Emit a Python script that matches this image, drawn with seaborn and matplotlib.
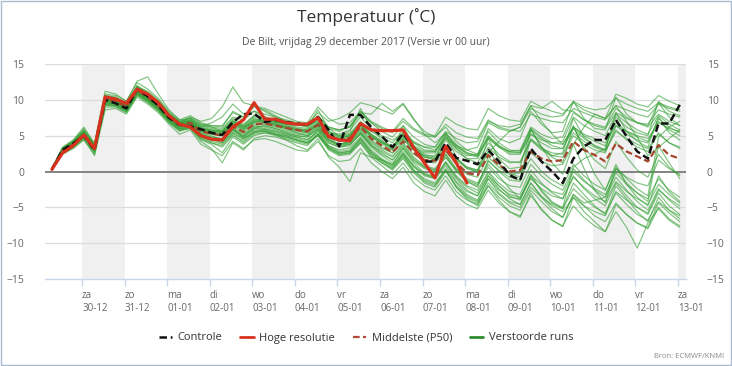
import numpy as np
import pandas as pd
import matplotlib
matplotlib.use("Agg")
import matplotlib.pyplot as plt
from matplotlib.lines import Line2D
from matplotlib.patches import Rectangle
import seaborn as sns

# tijdas: 6-uurlijkse stappen
start = "2017-12-29 07:00"
n_steps = 60

day_names = ["za", "zo", "ma", "di", "wo", "do", "vr", "za", "zo", "ma", "di", "wo", "do", "vr", "za"]
day_dates = ["30-12", "31-12", "01-01", "02-01", "03-01", "04-01", "05-01", "06-01",
             "07-01", "08-01", "09-01", "10-01", "11-01", "12-01", "13-01"]

# Controle run
controle = [0.3, 3.0, 3.9, 5.0, 3.0, 10.0, 9.5, 8.8, 11.5, 10.5, 9.2, 7.5, 6.5,
            6.3, 5.9, 5.4, 5.1, 6.9, 8.0, 8.1, 6.9, 7.2, 6.9, 6.7, 6.5,
            7.6, 5.8, 3.5, 7.9, 7.9, 6.2, 4.9, 3.4, 5.3, 3.3, 1.4, 1.4, 4.0, 1.9, 1.5, 1.0,
            3.0, 1.4, -0.5, -1.2, 3.2, 1.4, 0.0, -1.6, 1.8, 3.5, 4.4, 4.4, 7.2, 4.9, 2.8, 1.8, 6.7, 6.7, 9.3]

# Hoge resolutie (stopt eerder)
hoge_res = [0.3, 2.6, 3.6, 5.1, 3.2, 10.4, 10.1, 9.5, 11.5, 10.8, 9.6, 7.8, 6.6,
            6.2, 5.0, 4.5, 4.4, 6.2, 7.2, 9.6, 7.3, 7.3, 6.8, 6.6, 6.6,
            7.5, 4.9, 4.4, 4.3, 6.7, 5.8, 5.7, 5.7, 5.8, 3.3, 1.2, -0.9, 3.5, 1.2, -1.6]

# Middelste (P50)
middelste = [0.3, 2.9, 3.8, 5.2, 3.3, 10.0, 9.8, 9.0, 11.3, 10.4, 9.2, 7.6, 6.5,
             6.8, 5.6, 5.3, 5.0, 6.3, 5.5, 6.6, 6.7, 6.4, 6.1, 5.8, 5.6,
             6.5, 4.8, 4.3, 4.7, 6.2, 4.6, 3.6, 2.7, 4.2, 2.6, 1.6, 1.5, 3.0, 1.2, -0.2, -0.5,
             2.3, 0.9, 0.0, 0.2, 2.8, 1.8, 1.4, 1.6, 4.2, 3.0, 2.3, 1.4, 3.9, 2.8, 2.1, 1.4, 3.7, 2.3, 1.8]

# Verstoorde runs
run01 = [0.4, 3.1, 4.0, 5.5, 3.5, 10.3, 10.1, 9.2, 11.6, 10.6, 9.4, 7.8, 6.7,
         7.0, 6.0, 5.6, 5.2, 6.8, 6.0, 7.2, 7.1, 6.9, 6.6, 6.2, 6.0,
         7.4, 5.6, 5.0, 5.3, 7.0, 5.6, 4.8, 4.0, 5.6, 4.2, 3.4, 3.0, 4.8, 3.4, 2.6, 2.2,
         4.8, 3.6, 2.8, 2.6, 5.2, 4.4, 4.0, 3.8, 6.2, 5.2, 4.6, 4.0, 6.4, 5.6, 5.0, 4.6, 6.8, 6.0, 5.6]
run02 = [0.2, 2.6, 3.5, 4.8, 3.0, 9.6, 9.5, 8.6, 11.0, 10.1, 8.8, 7.2, 6.1,
         6.4, 5.0, 4.6, 4.2, 5.6, 4.8, 5.8, 5.9, 5.6, 5.2, 4.8, 4.5,
         5.4, 3.6, 3.0, 3.3, 4.8, 3.0, 1.8, 0.9, 2.4, 0.6, -0.6, -1.0, 0.8, -1.4, -2.8, -3.4,
         -0.6, -2.0, -3.2, -3.6, -1.0, -2.4, -3.4, -3.8, -0.8, -2.2, -3.4, -4.2, -1.4, -2.8, -3.8, -4.6, -1.8, -3.2, -4.4]
run03 = [0.3, 3.3, 4.2, 5.8, 3.8, 10.6, 10.4, 9.5, 11.9, 10.9, 9.7, 8.0, 7.0,
         7.2, 6.3, 6.0, 5.8, 7.4, 6.6, 7.8, 7.6, 7.2, 6.9, 6.6, 6.4,
         7.8, 6.2, 5.8, 6.2, 8.0, 6.8, 6.0, 5.4, 7.0, 5.8, 5.0, 4.8, 6.6, 5.4, 4.8, 4.6,
         7.2, 6.2, 5.8, 5.6, 8.0, 7.4, 7.0, 6.8, 8.8, 8.2, 7.6, 7.2, 9.2, 8.6, 8.0, 7.6, 9.4, 8.8, 8.4]
run04 = [0.3, 2.8, 3.6, 5.0, 2.8, 9.4, 9.2, 8.4, 10.8, 9.8, 8.6, 7.0, 5.8,
         6.0, 4.6, 4.0, 3.6, 5.2, 4.0, 5.2, 5.4, 5.0, 4.6, 4.2, 3.8,
         5.0, 3.2, 2.4, 2.6, 4.0, 2.0, 0.8, -0.4, 1.2, -0.8, -2.0, -2.6, -0.6, -2.8, -4.0, -4.6,
         -2.0, -3.6, -4.8, -5.4, -2.6, -4.2, -5.6, -6.4, -3.2, -4.8, -6.2, -7.0, -4.4, -6.0, -7.2, -8.0, -5.0, -6.6, -7.6]
run05 = [0.5, 3.4, 4.4, 6.2, 3.9, 11.2, 10.8, 9.8, 12.4, 11.5, 10.2, 8.4, 7.2,
         7.8, 6.8, 6.4, 6.2, 8.4, 7.6, 9.0, 8.6, 7.8, 7.0, 6.6, 6.2,
         8.6, 6.0, 5.0, 5.6, 8.8, 6.0, 4.4, 3.0, 6.4, 3.6, 2.0, 1.6, 5.2, 2.0, 0.4, 0.0,
         4.6, 1.8, 0.4, 0.6, 6.0, 3.4, 2.2, 2.6, 7.4, 4.8, 3.6, 3.0, 8.2, 5.6, 4.2, 3.4, 7.6, 5.4, 4.4]
run06 = [0.2, 2.4, 3.2, 4.4, 2.4, 9.0, 9.0, 8.2, 10.6, 9.6, 8.4, 6.8, 5.6,
         6.2, 4.4, 3.8, 2.6, 4.8, 3.8, 5.0, 5.4, 5.2, 5.0, 4.6, 4.2,
         5.8, 4.0, 3.4, 3.8, 5.2, 3.6, 2.8, 2.0, 3.6, 1.8, 0.6, 0.2, 2.0, 0.2, -1.2, -1.8,
         1.4, 0.2, -0.8, -1.2, 4.6, 3.4, 2.0, 1.2, 6.4, 3.0, -0.4, -2.6, 1.0, -1.8, -3.6, -4.8, -0.6, -2.8, -4.2]
run07 = [0.4, 3.0, 3.9, 5.4, 3.4, 10.2, 10.0, 9.2, 11.8, 11.2, 10.0, 8.2, 7.0,
         7.4, 6.4, 6.2, 6.0, 7.6, 7.2, 8.4, 8.0, 7.6, 7.2, 6.8, 6.6,
         8.2, 7.0, 7.4, 8.2, 9.6, 9.2, 8.6, 8.0, 9.4, 7.2, 5.6, 4.8, 6.2, 4.2, 3.0, 2.4,
         5.6, 4.0, 3.0, 2.8, 5.8, 4.6, 3.6, 3.2, 6.0, 4.6, 3.6, 3.0, 5.8, 4.4, 3.4, 2.8, 5.4, 4.0, 3.2]
run08 = [0.3, 2.7, 3.4, 4.6, 2.2, 8.6, 8.8, 8.0, 10.4, 9.4, 8.2, 6.6, 5.2,
         5.8, 3.8, 3.0, 2.2, 4.2, 3.2, 4.4, 4.6, 4.2, 3.6, 3.0, 2.8,
         4.2, 2.2, 1.4, 1.6, 3.2, 1.2, 0.0, -1.0, 0.6, -1.6, -2.8, -3.4, -1.2, -3.4, -4.6, -5.2,
         -2.6, -4.4, -5.6, -6.2, -3.4, -5.2, -6.8, -7.6, -4.8, -6.4, -7.6, -8.4, -5.6, -7.8, -10.7, -7.2, -5.2, -6.8, -7.8]
run09 = [0.4, 3.2, 4.1, 5.6, 3.6, 10.4, 10.2, 9.4, 12.0, 11.0, 9.8, 8.1, 6.9,
         7.5, 6.6, 6.4, 6.4, 8.2, 7.6, 9.2, 8.8, 8.2, 7.6, 7.0, 6.8,
         9.0, 7.4, 6.6, 6.8, 8.4, 7.0, 6.2, 5.6, 7.4, 6.0, 5.2, 5.0, 7.6, 6.6, 6.0, 5.8,
         8.8, 7.8, 7.2, 7.0, 9.8, 9.0, 8.4, 8.0, 9.6, 8.6, 8.0, 7.4, 10.8, 10.2, 9.4, 9.0, 10.6, 9.8, 9.2]
run10 = [0.3, 2.9, 3.7, 5.0, 3.1, 9.8, 9.6, 8.8, 11.2, 10.2, 9.0, 7.4, 6.4,
         6.6, 5.4, 5.0, 4.4, 6.0, 5.0, 6.0, 6.4, 6.0, 5.4, 5.0, 4.8,
         6.0, 4.4, 3.8, 4.0, 5.4, 4.0, 3.0, 2.2, 3.8, 2.0, 0.8, 0.4, 2.4, 0.4, -1.0, -1.6,
         1.0, -0.6, -2.4, -3.8, -0.4, -2.8, -4.4, -5.0, 0.6, 1.8, 2.4, 3.2, 7.6, 6.2, 5.4, 5.0, 9.8, 8.4, 7.8]
run11 = [0.3, 3.0, 3.9, 5.3, 3.2, 10.1, 9.9, 9.1, 11.4, 10.5, 9.3, 7.7, 6.6,
         7.2, 6.2, 6.8, 7.6, 9.4, 8.0, 8.4, 7.6, 7.0, 6.6, 6.4, 6.4,
         7.0, 5.4, 5.2, 5.8, 7.6, 6.0, 5.0, 4.4, 5.2, 3.4, 2.4, 2.0, 3.6, 1.8, 0.6, 0.2,
         3.4, 2.0, 1.2, 1.4, 4.4, 3.2, 2.6, 2.4, 5.4, 4.2, 3.4, 2.8, 5.6, 4.6, 3.8, 3.2, 5.2, 4.0, 3.4]
run12 = [0.2, 2.8, 3.6, 4.9, 3.0, 9.6, 9.4, 8.6, 10.9, 10.0, 8.8, 7.2, 6.0,
         6.2, 4.8, 4.4, 4.0, 5.4, 4.4, 5.6, 5.8, 5.4, 5.0, 4.4, 4.0,
         5.0, 3.0, 2.2, 2.4, 4.0, 2.2, 1.2, 0.4, 2.0, 0.0, -1.4, -2.0, 0.2, -2.2, -3.6, -4.4,
         -1.6, -3.2, -4.4, -5.0, -2.2, -3.6, -4.6, -5.2, -2.4, -3.8, -5.0, -5.8, -3.0, -4.6, -6.0, -6.8, -4.2, -5.4, -6.2]
run13 = [0.3, 2.9, 3.8, 5.1, 3.3, 10.0, 9.7, 8.9, 11.2, 10.3, 9.1, 7.5, 6.3,
         6.6, 5.2, 4.6, 4.0, 6.0, 4.6, 5.4, 5.8, 5.2, 4.4, 3.6, 3.0,
         4.6, 2.0, 0.6, -1.4, 2.6, 2.0, 1.6, 1.0, 3.2, 1.4, 0.4, 0.0, 2.4, 0.2, -1.4, -2.2,
         1.6, 0.0, -1.2, -1.4, 5.8, 3.4, 1.2, -0.4, 3.8, 0.4, -2.6, -4.4, 0.4, -1.6, -3.0, -4.2, 3.6, 1.2, -1.0]
run14 = [0.4, 3.0, 4.0, 5.4, 3.6, 10.4, 10.0, 9.0, 11.4, 10.6, 9.4, 7.8, 6.8,
         7.0, 5.8, 5.4, 5.0, 6.6, 5.8, 7.0, 7.0, 6.6, 6.2, 5.8, 5.6,
         6.8, 5.0, 4.6, 5.0, 6.6, 5.0, 4.0, 3.2, 4.8, 3.4, 2.6, 2.6, 4.6, 3.2, 2.2, 2.4,
         6.0, 4.6, 4.0, 4.6, 8.4, 6.6, 5.4, 5.6, 9.8, 7.4, 6.0, 5.8, 10.4, 8.0, 6.8, 6.4, 9.6, 7.6, 6.4]
run15 = [0.3, 2.7, 3.6, 5.0, 3.1, 9.7, 9.5, 8.7, 11.0, 10.1, 8.9, 7.3, 6.2,
         6.5, 5.2, 4.8, 4.6, 5.8, 5.0, 6.2, 6.2, 5.8, 5.4, 5.0, 4.8,
         5.8, 4.0, 3.4, 3.6, 5.4, 3.6, 2.4, 1.6, 3.4, 1.6, 0.6, 0.2, 2.0, 0.0, -1.4, -2.0,
         0.6, -1.0, -2.0, -2.2, 1.0, -0.6, -1.8, -2.6, 0.4, -1.2, -2.6, -3.6, -0.8, -2.6, -4.2, -5.4, -2.4, -4.0, -5.2]
run16 = [0.3, 3.1, 4.0, 5.3, 3.4, 10.2, 9.9, 9.1, 11.5, 10.7, 9.5, 7.9, 6.8,
         7.0, 6.0, 5.8, 5.4, 6.6, 6.2, 6.8, 7.4, 7.0, 6.4, 6.0, 5.8,
         6.8, 5.6, 4.8, 5.0, 6.4, 5.2, 4.2, 3.6, 4.6, 3.2, 2.2, 1.8, 3.2, 1.6, 0.4, 0.0,
         2.6, 4.2, 5.6, 6.2, 9.2, 7.0, 5.2, 3.8, 6.2, 3.4, 1.6, 0.4, 4.2, 2.0, 0.2, -0.8, 2.4, 0.6, -0.6]
run17 = [0.4, 3.2, 4.2, 5.7, 3.7, 10.6, 10.3, 9.4, 11.8, 10.8, 9.6, 8.0, 6.8,
         7.2, 6.2, 5.8, 5.6, 7.2, 6.4, 7.6, 7.4, 7.0, 6.8, 6.6, 6.2,
         7.4, 6.0, 5.6, 6.4, 8.2, 8.0, 9.5, 8.4, 9.5, 7.4, 5.2, 4.0, 5.4, 3.2, 1.8, 1.2,
         4.0, 2.4, 1.4, 1.2, 4.4, 3.0, 2.2, 2.0, 5.0, 3.8, 3.0, 2.6, 6.4, 5.2, 4.4, 4.0, 7.4, 6.2, 5.4]
run18 = [0.2, 2.5, 3.3, 4.5, 2.6, 9.2, 9.1, 8.3, 10.7, 9.7, 8.5, 6.9, 5.7,
         6.0, 4.2, 3.2, 1.2, 4.0, 3.0, 4.6, 5.0, 4.8, 4.4, 4.0, 3.6,
         5.2, 3.4, 2.6, 2.8, 4.4, 2.6, 1.6, 0.8, 2.6, 0.8, -0.4, -0.8, 1.4, -0.6, -2.0, -2.6,
         0.0, -1.6, -2.8, -3.2, 0.2, -1.6, -3.0, -3.8, -0.6, -2.4, -3.8, -4.8, -1.6, -3.4, -5.0, -6.0, -3.0, -4.8, -6.0]
run19 = [0.3, 3.0, 3.8, 5.2, 3.2, 10.0, 9.8, 9.0, 11.2, 10.4, 9.2, 7.6, 6.6,
         6.8, 5.8, 5.6, 5.6, 7.0, 6.4, 7.8, 7.6, 6.8, 6.0, 5.4, 5.0,
         6.4, 4.4, 3.6, 4.0, 6.2, 4.8, 4.0, 3.4, 5.4, 4.0, 3.0, 2.8, 5.2, 3.6, 2.4, 2.0,
         5.0, 3.6, 2.6, 2.6, 6.0, 4.8, 4.0, 4.2, 7.6, 6.4, 5.6, 5.0, 8.0, 6.8, 5.8, 5.2, 7.8, 6.6, 5.8]
run20 = [0.3, 2.8, 3.7, 5.1, 3.2, 9.9, 9.7, 8.9, 11.2, 10.3, 9.1, 7.5, 6.4,
         6.6, 5.4, 5.2, 5.0, 6.2, 5.4, 6.4, 6.6, 6.2, 5.8, 5.4, 5.2,
         6.2, 4.4, 3.8, 4.2, 5.6, 3.8, 2.6, 1.6, 3.2, 1.2, -0.2, -0.8, 1.2, -1.0, -2.6, -3.4,
         -0.6, -2.4, -3.8, -4.6, -1.6, -3.6, -5.2, -6.4, -3.2, -4.4, -4.0, -3.6, 0.4, -0.8, -1.6, -2.0, 1.6, 0.4, -0.4]
run21 = [0.4, 3.1, 4.0, 5.5, 3.5, 10.3, 10.1, 9.3, 11.6, 10.7, 9.5, 7.9, 6.8,
         7.0, 6.0, 5.8, 5.6, 7.0, 6.2, 7.2, 7.2, 6.8, 6.4, 6.0, 5.8,
         7.2, 5.4, 4.8, 5.2, 6.8, 5.2, 4.2, 3.4, 5.0, 3.6, 2.8, 2.8, 4.8, 3.6, 3.0, 3.4,
         6.8, 6.0, 5.6, 6.2, 8.8, 8.0, 7.6, 7.8, 9.8, 9.0, 8.6, 8.8, 10.2, 9.4, 8.8, 8.4, 9.6, 9.0, 8.6]
run22 = [0.2, 2.6, 3.5, 4.8, 3.0, 9.5, 9.4, 8.6, 10.9, 10.0, 8.8, 7.2, 6.0,
         6.4, 5.0, 4.6, 4.4, 5.8, 4.8, 6.0, 6.0, 5.6, 5.2, 4.8, 4.4,
         5.6, 3.6, 2.8, 3.0, 4.6, 2.8, 1.6, 0.6, 2.2, 0.2, -1.2, -1.8, 0.2, -2.2, -3.8, -4.8,
         -2.0, -4.0, -5.6, -6.4, -3.0, -5.4, -6.8, -7.7, -3.6, -4.8, -5.6, -6.2, -2.8, -4.0, -5.0, -5.8, -2.6, -3.8, -4.8]
run23 = [0.3, 2.7, 3.6, 4.9, 2.9, 9.4, 9.3, 8.5, 10.8, 9.9, 8.7, 7.1, 5.9,
         6.2, 4.8, 4.2, 3.8, 5.4, 4.6, 5.6, 5.6, 5.2, 4.8, 4.4, 4.0,
         5.2, 3.4, 2.6, 2.8, 4.6, 2.6, 1.4, 0.4, 2.4, 0.2, -1.0, -1.6, 0.4, -1.6, -3.2, -4.0,
         -1.0, -3.0, -4.2, -4.6, -1.6, -3.4, -4.8, -5.6, -3.6, -5.6, -7.0, -8.4, -4.6, -6.0, -7.2, -7.8, -4.4, -5.8, -7.0]
run24 = [0.3, 2.9, 3.8, 5.2, 3.3, 10.0, 9.8, 9.0, 11.3, 10.4, 9.2, 7.6, 6.5,
         6.8, 5.6, 5.2, 5.0, 6.4, 5.6, 6.6, 6.8, 6.4, 6.0, 5.8, 5.6,
         6.4, 4.8, 4.2, 4.6, 6.0, 4.4, 3.4, 2.6, 4.0, 2.4, 1.4, 1.2, 2.8, 1.0, -0.4, -0.8,
         2.0, 0.6, -0.4, -0.2, 2.6, 1.4, 0.8, 1.0, 3.8, 6.2, 8.0, 7.4, 9.2, 7.0, 4.8, 2.2, 3.4, 4.6, 5.8]
run25 = [0.4, 3.3, 4.3, 6.0, 3.8, 10.8, 10.6, 9.8, 12.6, 13.2, 10.8, 8.6, 7.2,
         7.4, 6.6, 6.2, 5.6, 7.0, 6.2, 7.4, 7.0, 6.6, 6.2, 5.8, 5.4,
         6.6, 4.6, 3.8, 4.2, 5.8, 4.2, 3.2, 2.6, 4.4, 3.0, 2.2, 2.2, 4.4, 2.8, 1.8, 1.8,
         4.6, 3.4, 2.8, 3.0, 6.2, 5.2, 4.6, 4.8, 8.2, 7.2, 6.6, 6.2, 8.8, 7.6, 6.8, 6.2, 8.0, 7.0, 6.4]
run26 = [0.4, 3.1, 4.1, 5.6, 3.6, 10.5, 10.2, 9.3, 11.7, 10.8, 9.6, 8.0, 6.9,
         7.6, 7.0, 7.4, 9.0, 11.8, 9.6, 9.2, 8.4, 7.6, 7.0, 6.6, 6.4,
         7.6, 6.2, 5.8, 6.2, 8.4, 6.8, 5.6, 4.8, 6.4, 4.8, 3.8, 3.4, 5.4, 3.8, 2.6, 2.2,
         4.8, 3.4, 2.4, 2.4, 5.2, 4.0, 3.2, 3.2, 6.2, 5.0, 4.2, 3.6, 6.8, 5.6, 4.8, 4.2, 7.0, 5.8, 5.0]
run27 = [0.3, 2.8, 3.7, 5.0, 3.1, 9.8, 9.6, 8.8, 11.1, 10.2, 9.0, 7.4, 6.3,
         6.6, 5.2, 4.8, 4.6, 6.0, 5.2, 6.2, 6.4, 6.0, 5.6, 5.2, 5.0,
         6.0, 4.2, 3.6, 3.8, 5.2, 3.4, 2.2, 1.2, 2.8, 0.8, -0.4, -1.0, 1.2, -0.8, -2.2, -3.0,
         -0.2, -2.0, -3.4, -4.0, -0.8, -2.6, -4.2, -5.2, -1.6, -3.2, -4.8, -6.0, -2.0, -3.8, -5.6, -7.0, -3.6, -5.4, -6.6]
run28 = [0.3, 3.0, 3.9, 5.3, 3.4, 10.1, 9.9, 9.1, 11.4, 10.5, 9.3, 7.7, 6.6,
         6.9, 5.8, 5.6, 5.4, 6.8, 6.0, 7.0, 7.0, 6.6, 6.2, 5.8, 5.6,
         6.8, 5.2, 4.6, 5.0, 6.6, 5.0, 4.0, 3.4, 5.2, 4.0, 3.4, 3.4, 5.6, 4.6, 4.0, 4.2,
         7.0, 6.4, 6.2, 6.6, 9.2, 8.8, 9.8, 8.6, 8.4, 7.2, 6.4, 6.0, 8.2, 7.4, 6.8, 6.6, 8.6, 8.0, 7.6]
run29 = [0.2, 2.7, 3.5, 4.7, 2.8, 9.3, 9.2, 8.4, 10.9, 9.9, 8.7, 7.1, 5.9,
         6.2, 4.6, 4.0, 3.4, 5.0, 4.2, 5.4, 5.6, 5.2, 4.8, 4.4, 4.0,
         5.2, 3.2, 2.4, 2.6, 4.2, 2.4, 1.2, 0.2, 1.8, -0.2, -1.6, -2.2, 0.0, -2.0, -3.4, -4.2,
         -1.0, -2.6, -3.6, -3.8, -0.6, -1.8, -2.8, -3.2, 0.0, -1.4, -2.4, -3.2, -0.2, -1.8, -3.0, -3.8, -1.0, -2.6, -3.6]
run30 = [0.3, 2.9, 3.8, 5.2, 3.3, 10.0, 9.8, 9.0, 11.3, 10.4, 9.2, 7.6, 6.5,
         6.8, 5.6, 5.4, 5.2, 6.6, 5.8, 6.8, 6.8, 6.4, 6.0, 5.6, 5.4,
         6.6, 5.0, 4.4, 4.8, 6.4, 4.8, 3.8, 3.0, 4.6, 3.0, 2.0, 1.8, 3.6, 1.8, 0.6, 0.2,
         2.8, 1.0, -0.2, -0.8, 1.8, 0.0, -1.2, -2.0, 1.0, -0.6, -1.8, -2.6, 0.6, -1.0, -2.4, -3.4, 4.8, 6.2, 7.0]

runs = [run01, run02, run03, run04, run05, run06, run07, run08, run09, run10,
        run11, run12, run13, run14, run15, run16, run17, run18, run19, run20,
        run21, run22, run23, run24, run25, run26, run27, run28, run29, run30]

tijden = pd.date_range(start, periods=n_steps, freq="6h")

ens = pd.concat([pd.DataFrame({"tijd": tijden, "temp": r, "run": k}) for k, r in enumerate(runs)],
                ignore_index=True)
df_ctrl = pd.DataFrame({"tijd": tijden, "temp": controle})
df_hres = pd.DataFrame({"tijd": tijden[:len(hoge_res)], "temp": hoge_res})
df_p50 = pd.DataFrame({"tijd": tijden, "temp": middelste})

sns.set_theme(style="white")
plt.rcParams["font.family"] = ["Open Sans", "DejaVu Sans"]

fig = plt.figure(figsize=(7.32, 3.66), dpi=100)
ax = fig.add_axes([45 / 732, 1 - 279 / 366, (686 - 45) / 732, (279 - 64) / 366])

dagen = pd.date_range("2017-12-30", periods=len(day_names), freq="D")

# grijze banden om de dag
for d in dagen[::2]:
    ax.axvspan(d, d + pd.Timedelta(days=1), color="#f0f0f0", lw=0, zorder=0)

for yv in range(-15, 20, 5):
    if yv == 0:
        ax.axhline(yv, color="#7a7a7a", lw=1.3, zorder=1)
    elif yv != -15:
        ax.axhline(yv, color="#dcdcdc", lw=0.9, zorder=1)

sns.lineplot(data=ens, x="tijd", y="temp", units="run", estimator=None,
             color="#35a035", lw=0.85, alpha=0.62, ax=ax, legend=False, zorder=2)
sns.lineplot(data=df_p50, x="tijd", y="temp", color="#a5472f", lw=1.6,
             ax=ax, legend=False, zorder=3)
ax.lines[-1].set_linestyle((0, (3, 1.5)))
sns.lineplot(data=df_ctrl, x="tijd", y="temp", color="#111111", lw=1.8,
             ax=ax, legend=False, zorder=4)
ax.lines[-1].set_linestyle((0, (3, 1.5)))
sns.lineplot(data=df_hres, x="tijd", y="temp", color="#d8321f", lw=2.3,
             ax=ax, legend=False, zorder=5)

ax.set_xlim(dagen[0] - pd.Timedelta(hours=20.9), dagen[-1] + pd.Timedelta(hours=4.5))
ax.set_ylim(-15, 15)
ax.set_yticks(range(-15, 20, 5))
ax.set_xticks(dagen)
ax.set_xticklabels([f"{a}\n{b}" for a, b in zip(day_names, day_dates)])
for lbl in ax.get_xticklabels():
    lbl.set_ha("left")
    lbl.set_multialignment("left")
ax.set_xlabel("")
ax.set_ylabel("")

for s in ["top", "left", "right"]:
    ax.spines[s].set_visible(False)
ax.spines["bottom"].set_color("#ccd6eb")
ax.spines["bottom"].set_linewidth(1)
ax.tick_params(axis="x", bottom=True, length=5, width=1, color="#ccd6eb",
               labelsize=7, labelcolor="#666666", pad=3)
ax.tick_params(axis="y", left=False, right=False, labelleft=True, labelright=True,
               labelsize=7.5, labelcolor="#666666", pad=9)

fig.text(0.5, 1 - 17 / 366, "Temperatuur (˚C)", ha="center", va="center",
         fontsize=12.5, color="#333333")
fig.text(0.5, 1 - 43 / 366, "De Bilt, vrijdag 29 december 2017 (Versie vr 00 uur)",
         ha="center", va="center", fontsize=7.5, color="#555555")

handles = [
    Line2D([], [], color="#111111", lw=1.8, ls=(0, (3, 1.5))),
    Line2D([], [], color="#d8321f", lw=2.0),
    Line2D([], [], color="#b5493a", lw=1.6, ls=(0, (3, 1.5))),
    Line2D([], [], color="#2e8b2e", lw=2.0),
]
labels = ["Controle", "Hoge resolutie", "Middelste (P50)", "Verstoorde runs"]
fig.legend(handles, labels, loc="center", bbox_to_anchor=(0.5, 1 - 338 / 366), ncol=4,
           frameon=False, fontsize=8, handlelength=1.2, handletextpad=0.5,
           columnspacing=1.6, labelcolor="#333333")

fig.text(1 - 8 / 732, 1 - 357 / 366, "Bron: ECMWF/KNMI", ha="right", va="center",
         fontsize=5.5, color="#888888")

fig.patches.append(Rectangle((0.001, 0.002), 0.997, 0.995, transform=fig.transFigure,
                             fill=False, edgecolor="#a9bccd", lw=1))

fig.savefig("out.png", dpi=100)
